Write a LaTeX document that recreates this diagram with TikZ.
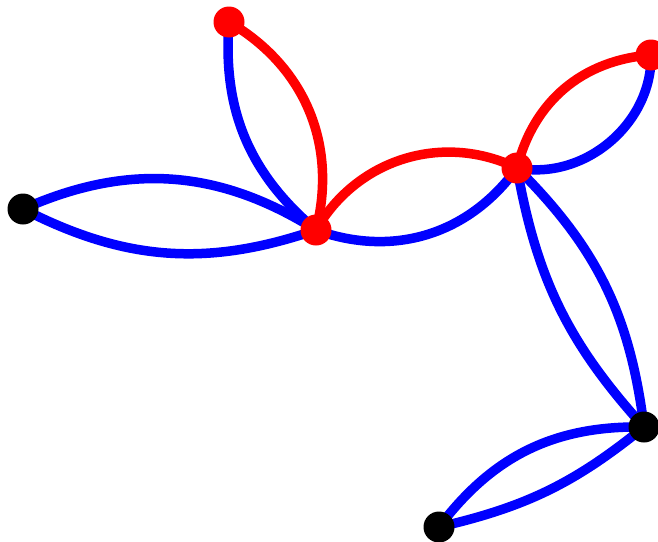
\documentclass[tikz,border=0pt]{standalone}
\pgfdeclarelayer{bg}
\pgfsetlayers{bg,main}
\tikzset{
  vert/.style={circle,inner sep=0pt,minimum size=31pt,draw=none},
  rv/.style={vert,fill=red},
  kv/.style={vert,fill=black},
  be/.style={draw=blue,line width=9.5pt},
  re/.style={draw=red,line width=9.5pt},
}
\begin{document}
\begin{tikzpicture}[x=1pt,y=-1pt]
\useasboundingbox (0,0) rectangle (658,541);
\node[rv] (A) at (229,22) {};
\node[kv] (B) at (23,209) {};
\node[rv] (C) at (316,230) {};
\node[rv] (D) at (517,168) {};
\node[rv] (E) at (651,55) {};
\node[kv] (F) at (644,427) {};
\node[kv] (G) at (439,527) {};
\begin{pgfonlayer}{bg}
\draw[be] (A.center) to[bend right=27] (C.center);
\draw[be] (B.center) to[bend left=28] (C.center);
\draw[be] (B.center) to[bend right=23] (C.center);
\draw[be] (C.center) to[bend right=37] (D.center);
\draw[be] (D.center) to[bend right=51] (E.center);
\draw[be] (D.center) to[bend left=19] (F.center);
\draw[be] (D.center) to[bend right=16] (F.center);
\draw[be] (G.center) to[bend left=27] (F.center);
\draw[be] (G.center) to[bend right=13] (F.center);
\draw[re] (A.center) to[bend left=37] (C.center);
\draw[re] (C.center) to[bend left=43] (D.center);
\draw[re] (D.center) to[bend left=36] (E.center);
\end{pgfonlayer}
\end{tikzpicture}
\end{document}
